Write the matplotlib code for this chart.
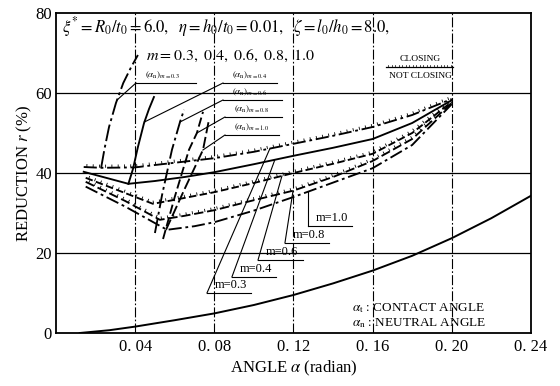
import numpy as np
import matplotlib
matplotlib.use("Agg")
import matplotlib.pyplot as plt
from matplotlib import patheffects

plt.rcParams["font.family"] = ["Liberation Serif", "DejaVu Serif"]
plt.rcParams["mathtext.fontset"] = "stix"

# contact angle curves (alpha_t), one per m
at03_x = [0.014, 0.0228, 0.04, 0.05, 0.08, 0.10, 0.12, 0.14, 0.16, 0.18, 0.20]
at03_r = [41.5, 41.3, 41.4, 42.0, 43.7, 45.3, 47.3, 49.3, 51.5, 54.5, 58.5]
at04_x = [0.014, 0.0366, 0.05, 0.065, 0.08, 0.10, 0.12, 0.14, 0.16, 0.18, 0.20]
at04_r = [40.3, 37.3, 38.0, 39.0, 40.2, 42.2, 44.3, 46.3, 48.5, 52.5, 58.2]
at06_x = [0.015, 0.049, 0.06, 0.08, 0.10, 0.12, 0.14, 0.16, 0.18, 0.20]
at06_r = [38.8, 32.3, 33.3, 35.2, 37.5, 40.0, 42.3, 44.8, 50.0, 57.8]
at08_x = [0.015, 0.035, 0.0525, 0.065, 0.08, 0.10, 0.12, 0.14, 0.16, 0.18, 0.20]
at08_r = [37.8, 33.0, 28.3, 29.3, 30.7, 33.2, 35.6, 39.0, 43.0, 48.5, 57.5]
at10_x = [0.015, 0.035, 0.0561, 0.07, 0.08, 0.10, 0.12, 0.14, 0.16, 0.18, 0.20]
at10_r = [36.6, 31.6, 25.8, 26.7, 27.7, 30.6, 34.0, 37.6, 41.2, 47.0, 57.2]

# neutral angle curves (alpha_n)
an03_x = [0.0228, 0.0245, 0.0268, 0.0303, 0.0340, 0.0380, 0.0414]
an03_r = [41.3, 46.0, 51.5, 57.5, 62.5, 66.5, 69.5]
an04_x = [0.0366, 0.0389, 0.0414, 0.0445, 0.0470, 0.0495]
an04_r = [37.3, 41.0, 46.5, 52.5, 56.0, 59.0]
an06_x = [0.0500, 0.0536, 0.0586, 0.0627, 0.0647]
an06_r = [25.0, 34.5, 45.8, 52.8, 55.8]
an08_x = [0.0541, 0.0600, 0.0672, 0.0712, 0.0743]
an08_r = [23.5, 34.0, 45.8, 50.0, 55.3]
an10_x = [0.0556, 0.0650, 0.0743, 0.0773]
an10_r = [25.8, 36.0, 45.8, 53.3]

# lower limit curve
low_x = [0.012, 0.027, 0.04, 0.06, 0.08, 0.10, 0.12, 0.14, 0.16, 0.18, 0.20, 0.22, 0.24]
low_r = [0.0, 0.7, 1.6, 3.2, 4.9, 7.0, 9.5, 12.4, 15.6, 19.3, 23.7, 28.7, 34.3]

m_names = ["0.3", "0.4", "0.6", "0.8", "1.0"]

# m labels under the curves: underline start, underline height, point on curve
m_lab_x = [0.0763, 0.0889, 0.1021, 0.1157, 0.1273]
m_lab_r = [10.0, 14.0, 18.25, 22.5, 26.75]
m_hit_x = [0.1081, 0.1106, 0.1142, 0.1198, 0.1273]

# alpha_n labels: underline start/end, height, reduction where leader meets curve
an_lab_x0 = [0.0404, 0.0844, 0.0844, 0.0854, 0.0854]
an_lab_x1 = [0.0707, 0.1117, 0.1142, 0.1142, 0.1127]
an_lab_r = [62.5, 62.5, 58.25, 54.0, 49.5]
an_hit_r = [58.25, 52.75, 52.75, 50.0, 45.75]

xticks = [0.04, 0.08, 0.12, 0.16, 0.20, 0.24]
xtick_labels = ["0. 04", "0. 08", "0. 12", "0. 16", "0. 20", "0. 24"]
yticks = [0, 20, 40, 60, 80]

fig = plt.figure(figsize=(5.6, 3.86), dpi=100)
ax = fig.add_axes([0.1, 0.1373, 0.848, 0.829])

# grid
for x in xticks[:-1]:
    ax.axvline(x, color="k", lw=0.8, ls=(0, (9, 2, 1.5, 2)), zorder=1)
for y in [20, 40, 60]:
    ax.axhline(y, color="k", lw=0.9, zorder=1)

hatch = [patheffects.withTickedStroke(angle=90, spacing=4.5, length=0.5, linewidth=0.6)]
dashdot = (0, (7, 2, 1.5, 2))
dashed = (0, (4, 1.8))

at_x = [at03_x, at04_x, at06_x, at08_x, at10_x]
at_r = [at03_r, at04_r, at06_r, at08_r, at10_r]
an_x = [an03_x, an04_x, an06_x, an08_x, an10_x]
an_r = [an03_r, an04_r, an06_r, an08_r, an10_r]
at_ls = [dashdot, "-", dashed, (0, (5, 2)), dashdot]
at_fx = [hatch, None, hatch, hatch, None]
an_ls = [(0, (9, 2, 1.5, 2)), "-", (0, (8, 2, 1.5, 2)), (0, (5, 2)), (0, (6, 2))]

for i in range(5):
    ax.plot(at_x[i], at_r[i], color="k", lw=1.35, ls=at_ls[i],
            path_effects=at_fx[i], zorder=3)
    ax.plot(an_x[i], an_r[i], color="k", lw=1.35, ls=an_ls[i], zorder=3)

ax.plot(low_x, low_r, color="k", lw=1.4, zorder=3)

# m labels with leaders
for i in range(5):
    hx = m_hit_x[i]
    hr = np.interp(hx, at_x[i], at_r[i])
    x0 = m_lab_x[i]
    y0 = m_lab_r[i]
    ax.plot([x0, hx], [y0, hr], color="k", lw=0.8, zorder=2)
    ax.plot([x0, x0 + 0.0225], [y0, y0], color="k", lw=0.8, zorder=2)
    ax.text(x0 + 0.004, y0 + 0.5, "m=" + m_names[i], fontsize=9,
            ha="left", va="bottom")

# alpha_n labels with leaders
for i in range(5):
    hr = an_hit_r[i]
    hx = np.interp(hr, an_r[i], an_x[i])
    x0 = an_lab_x0[i]
    y0 = an_lab_r[i]
    ax.plot([hx, x0], [hr, y0], color="k", lw=0.8, zorder=2)
    ax.plot([x0, an_lab_x1[i]], [y0, y0], color="k", lw=0.8, zorder=2)
    tx = x0 + 0.0045
    ax.text(tx, y0 + 0.4, r"$(\alpha_{\rm n})_{m=" + m_names[i] + "}$",
            fontsize=6.5, ha="left", va="bottom")

ax.text(0.003, 76.5, r"$\xi^{*}=R_0/t_0=6.0,\ \ \eta=h_0/t_0=0.01,\ \ \zeta=l_0/h_0=8.0,$",
        fontsize=12, ha="left", va="center")
ax.text(0.0455, 69.3, r"$m=0.3,\ 0.4,\ 0.6,\ 0.8,\ 1.0$", fontsize=11.5, ha="left", va="center")

# closing / not closing key
ax.plot([0.167, 0.2005], [66.5, 66.5], color="k", lw=0.9,
        path_effects=[patheffects.withTickedStroke(angle=90, spacing=2.5, length=0.6, linewidth=0.5)])
ax.text(0.184, 67.6, "CLOSING", fontsize=6.8, ha="center", va="bottom")
ax.text(0.184, 65.3, "NOT CLOSING", fontsize=6.8, ha="center", va="top")

ax.text(0.1496, 6.3, r"$\alpha_{\rm t}$ : CONTACT ANGLE", fontsize=9.5, ha="left", va="center")
ax.text(0.1496, 2.5, r"$\alpha_{\rm n}$ : NEUTRAL ANGLE", fontsize=9.5, ha="left", va="center")

ax.set_xlim(0, 0.24)
ax.set_ylim(0, 80)
ax.set_xticks(xticks)
ax.set_xticklabels(xtick_labels)
ax.set_yticks(yticks)
ax.tick_params(length=0, labelsize=12)
ax.tick_params(axis="x", pad=4)
ax.tick_params(axis="y", pad=3)
for s in ax.spines.values():
    s.set_linewidth(1.3)

ax.set_xlabel(r"ANGLE $\alpha$ (radian)", fontsize=12, labelpad=3)
ax.set_ylabel(r"REDUCTION $r$ (%)", fontsize=12, labelpad=1)

fig.savefig("out.png", dpi=100)
